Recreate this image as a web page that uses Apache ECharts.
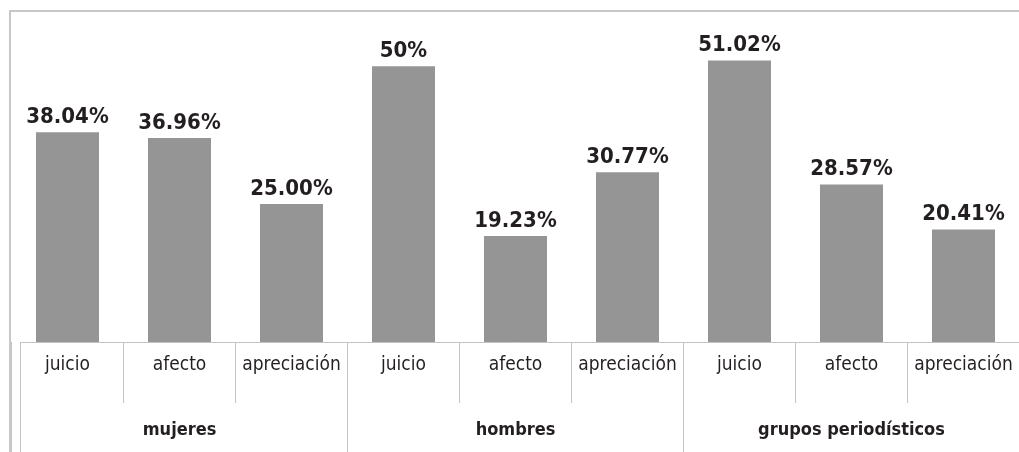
<!DOCTYPE html>
<html>
<head>
<meta charset="utf-8">
<script src="https://cdn.jsdelivr.net/npm/echarts@6/dist/echarts.min.js"></script>
<style>
html,body{margin:0;padding:0;background:#fff;}
#chart{width:1019px;height:452px;}
</style>
</head>
<body>
<div id="chart"></div>
<script>
const categories = ['juicio','afecto','apreciación','juicio','afecto','apreciación','juicio','afecto','apreciación'];
const groups = ['mujeres','hombres','grupos periodísticos'];
const values = [38.04, 36.96, 25.00, 50, 19.23, 30.77, 51.02, 28.57, 20.41];
const valueLabels = ['38.04%','36.96%','25.00%','50%','19.23%','30.77%','51.02%','28.57%','20.41%'];

const chart = echarts.init(document.getElementById('chart'));
const font = '"DejaVu Sans Condensed", "Liberation Sans Narrow", sans-serif';
chart.setOption({
  animation: false,
  backgroundColor: '#ffffff',
  grid: { left: 11.5, right: -0.5, top: 11, bottom: 110, outerBoundsMode: 'none', containLabel: false },
  xAxis: [
    {
      type: 'category', data: categories, position: 'bottom',
      axisLine: { show: false },
      axisTick: { show: true, length: 61, alignWithLabel: false, lineStyle: { color: '#c4c4c4', width: 1 } },
      axisLabel: { color: '#231f20', fontFamily: font, fontSize: 19, margin: 14, interval: 0 }
    },
    {
      type: 'category', data: groups, position: 'bottom',
      axisLine: { show: false },
      axisTick: { show: true, length: 115, lineStyle: { color: '#c4c4c4', width: 1 } },
      axisLabel: { color: '#231f20', fontFamily: font, fontSize: 18, fontWeight: 'bold', margin: 79, interval: 0 }
    }
  ],
  yAxis: { type: 'value', min: 0, max: 60, show: false, splitLine: { show: false } },
  graphic: [
    { type: 'rect', shape: { x: 10, y: 11, width: 1030, height: 460 }, style: { fill: 'none', stroke: '#c8c8c8', lineWidth: 2 }, silent: true, z: 10 },
    { type: 'line', shape: { x1: 20.5, y1: 342, x2: 20.5, y2: 452 }, style: { stroke: '#c4c4c4', lineWidth: 1 }, silent: true },
    { type: 'line', shape: { x1: 20.5, y1: 342.5, x2: 1019, y2: 342.5 }, style: { stroke: '#c4c4c4', lineWidth: 1 }, silent: true }
  ],
  series: [{
    type: 'bar', xAxisIndex: 0, data: values, barWidth: 63,
    itemStyle: { color: '#959595' },
    label: {
      show: true, position: 'top', distance: 4,
      formatter: p => valueLabels[p.dataIndex],
      color: '#231f20', fontFamily: font, fontSize: 22, fontWeight: 'bold'
    }
  }]
});
</script>
</body>
</html>
